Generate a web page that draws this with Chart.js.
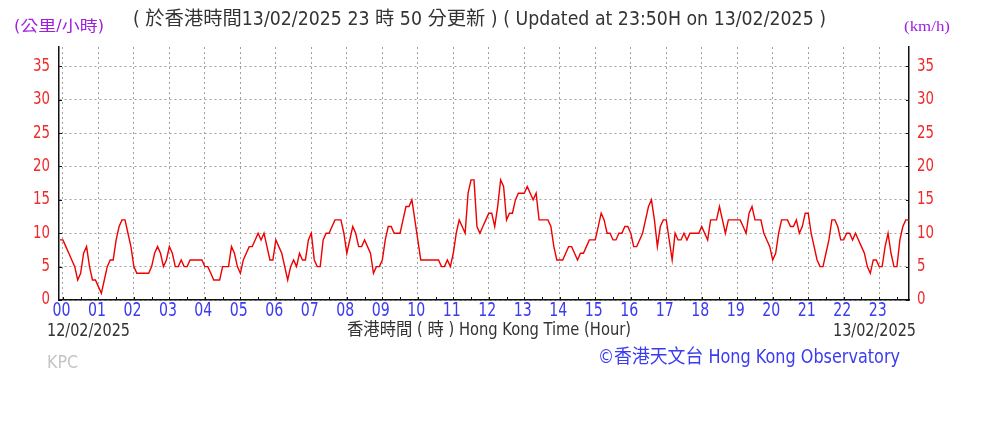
<!DOCTYPE html>
<html>
<head>
<meta charset="utf-8">
<script src="https://cdn.jsdelivr.net/npm/chart.js@4.4.1/dist/chart.umd.min.js"></script>
<style>
  html, body { margin: 0; padding: 0; background: #fff; }
  #wrap { width: 1008px; height: 437px; }
</style>
</head>
<body>
<div id="wrap"><canvas id="windChart" width="1008" height="437"></canvas></div>
<script>
// 10-min mean wind speed (km/h), read every 5 minutes from 23:55 (12/02) to 23:50 (13/02)
const startHour = -1 / 12;
const stepHours = 5 / 60;
const speeds = [
  9,
  9, 8, 7, 6, 5, 3, 4, 7, 8, 5, 3, 3,          // 00
  2, 1, 3, 5, 6, 6, 9, 11, 12, 12, 10, 8,      // 01
  5, 4, 4, 4, 4, 4, 5, 7, 8, 7, 5, 6,          // 02
  8, 7, 5, 5, 6, 5, 5, 6, 6, 6, 6, 6,          // 03
  5, 5, 4, 3, 3, 3, 5, 5, 5, 8, 7, 5,          // 04
  4, 6, 7, 8, 8, 9, 10, 9, 10, 8, 6, 6,        // 05
  9, 8, 7, 5, 3, 5, 6, 5, 7, 6, 6, 9,          // 06
  10, 6, 5, 5, 9, 10, 10, 11, 12, 12, 12, 10,  // 07
  7, 9, 11, 10, 8, 8, 9, 8, 7, 4, 5, 5,        // 08
  6, 9, 11, 11, 10, 10, 10, 12, 14, 14, 15, 12,// 09
  9, 6, 6, 6, 6, 6, 6, 6, 5, 5, 6, 5,          // 10
  7, 10, 12, 11, 10, 16, 18, 18, 11, 10, 11, 12,// 11
  13, 13, 11, 14, 18, 17, 12, 13, 13, 15, 16, 16,// 12
  16, 17, 16, 15, 16, 12, 12, 12, 12, 11, 8, 6,// 13
  6, 6, 7, 8, 8, 7, 6, 7, 7, 8, 9, 9,          // 14
  9, 11, 13, 12, 10, 10, 9, 9, 10, 10, 11, 11, // 15
  10, 8, 8, 9, 10, 12, 14, 15, 12, 8, 11, 12,  // 16
  12, 9, 6, 10, 9, 9, 10, 9, 10, 10, 10, 10,   // 17
  11, 10, 9, 12, 12, 12, 14, 12, 10, 12, 12, 12,// 18
  12, 12, 11, 10, 13, 14, 12, 12, 12, 10, 9, 8,// 19
  6, 7, 10, 12, 12, 12, 11, 11, 12, 10, 11, 13,// 20
  13, 10, 8, 6, 5, 5, 7, 9, 12, 12, 11, 9,     // 21
  9, 10, 10, 9, 10, 9, 8, 7, 5, 4, 6, 6,       // 22
  5, 5, 8, 10, 7, 5, 5, 9, 11, 12, 12          // 23
];
const hourLabels = ['00','01','02','03','04','05','06','07','08','09','10','11',
                    '12','13','14','15','16','17','18','19','20','21','22','23'];
const speedTicks = [0, 5, 10, 15, 20, 25, 30, 35];

const narrow = '"Liberation Sans Narrow", "DejaVu Sans Condensed", "Noto Sans CJK TC", sans-serif';
const RED = '#ee2a2a';
const BLUE = '#3b3bf0';
const PURPLE = '#a01ee0';

const points = speeds.map((v, i) => ({ x: startHour + i * stepHours, y: v }));

// draw text squeezed into a given width (align: 'left' | 'center' | 'right')
function fitText(ctx, text, x, y, w, font, color, align) {
  ctx.save();
  ctx.font = font;
  ctx.textBaseline = 'middle';
  ctx.textAlign = 'left';
  const m = ctx.measureText(text).width;
  let x0 = x;
  if (align === 'center') x0 = x - w / 2;
  else if (align === 'right') x0 = x - w;
  ctx.translate(x0, y);
  ctx.scale(w / m, 1);
  ctx.fillStyle = color;
  ctx.fillText(text, 0, 0);
  ctx.restore();
}

const decor = {
  id: 'decor',
  beforeDraw(chart) {
    const ctx = chart.ctx;
    ctx.save();
    ctx.fillStyle = '#fff';
    ctx.fillRect(0, 0, chart.width, chart.height);
    ctx.restore();
  },
  afterDraw(chart) {
    const ctx = chart.ctx;
    const { left, right, bottom } = chart.chartArea;
    const xs = chart.scales.x, ys = chart.scales.y;

    // small inner tick marks
    ctx.save();
    ctx.strokeStyle = '#111';
    ctx.lineWidth = 1;
    ctx.beginPath();
    for (let h = 0; h < 24; h += 0.5) {
      const px = Math.round(xs.getPixelForValue(h)) + 0.5;
      ctx.moveTo(px, bottom);
      ctx.lineTo(px, bottom - 3);
    }
    speedTicks.forEach(v => {
      const py = Math.round(ys.getPixelForValue(v)) + 0.5;
      ctx.moveTo(left, py); ctx.lineTo(left + 3, py);
      ctx.moveTo(right, py); ctx.lineTo(right - 3, py);
    });
    ctx.stroke();
    ctx.restore();

    // condensed tick labels
    hourLabels.forEach((l, i) => {
      fitText(ctx, l, xs.getPixelForValue(i) - 1.5, 311, 18, '19px ' + narrow, BLUE, 'center');
    });
    speedTicks.forEach(v => {
      const py = ys.getPixelForValue(v);
      const w = v < 10 ? 8.5 : 17;
      fitText(ctx, String(v), 50, py, w, '17px ' + narrow, RED, 'right');
      fitText(ctx, String(v), 917, py, w, '17px ' + narrow, RED, 'left');
    });

    fitText(ctx, '(公里/小時)', 14, 27, 90, '15px ' + narrow, PURPLE);
    fitText(ctx, '( 於香港時間13/02/2025 23 時 50 分更新 ) ( Updated at 23:50H on 13/02/2025 )',
      133, 20, 693, '19px ' + narrow, '#333');
    fitText(ctx, '(km/h)', 904, 27, 46, '15px "Liberation Serif", serif', PURPLE);
    fitText(ctx, '12/02/2025', 47, 331, 83, '18px ' + narrow, '#333');
    fitText(ctx, '香港時間 ( 時 ) Hong Kong Time (Hour)', 347, 331, 284, '17px ' + narrow, '#333');
    fitText(ctx, '13/02/2025', 833, 331, 83, '18px ' + narrow, '#333');
    fitText(ctx, 'KPC', 47, 364, 31, '17px ' + narrow, '#c4c4c4');
    fitText(ctx, '©香港天文台 Hong Kong Observatory', 598, 358, 302, '19px ' + narrow, BLUE);
  }
};

new Chart(document.getElementById('windChart'), {
  type: 'line',
  data: {
    datasets: [{
      data: points,
      borderColor: '#ee0000',
      borderWidth: 1.4,
      pointRadius: 0,
      tension: 0,
      fill: false
    }]
  },
  options: {
    responsive: false,
    animation: false,
    layout: { padding: { top: 47, left: 0, right: 0, bottom: 0 } },
    plugins: { legend: { display: false }, tooltip: { enabled: false } },
    scales: {
      x: {
        type: 'linear',
        min: -0.11,
        max: 23.84,
        afterBuildTicks: s => { s.ticks = hourLabels.map((l, i) => ({ value: i })); },
        afterFit: s => { s.height = 137; },
        ticks: { display: false },
        grid: { color: '#a0a0a0', drawTicks: false },
        border: { color: '#111', width: 1.5, dash: [2, 3] }
      },
      y: {
        position: 'left',
        min: 0,
        max: 37.9,
        afterBuildTicks: s => { s.ticks = speedTicks.map(v => ({ value: v })); },
        afterFit: s => { s.width = 59; },
        ticks: { display: false },
        grid: { color: '#a0a0a0', drawTicks: false },
        border: { color: '#111', width: 1.5, dash: [2, 3] }
      },
      y2: {
        position: 'right',
        min: 0,
        max: 37.9,
        afterBuildTicks: s => { s.ticks = speedTicks.map(v => ({ value: v })); },
        afterFit: s => { s.width = 99; },
        ticks: { display: false },
        grid: { display: false, drawTicks: false },
        border: { color: '#111', width: 1.5 }
      }
    }
  },
  plugins: [decor]
});
</script>
</body>
</html>
